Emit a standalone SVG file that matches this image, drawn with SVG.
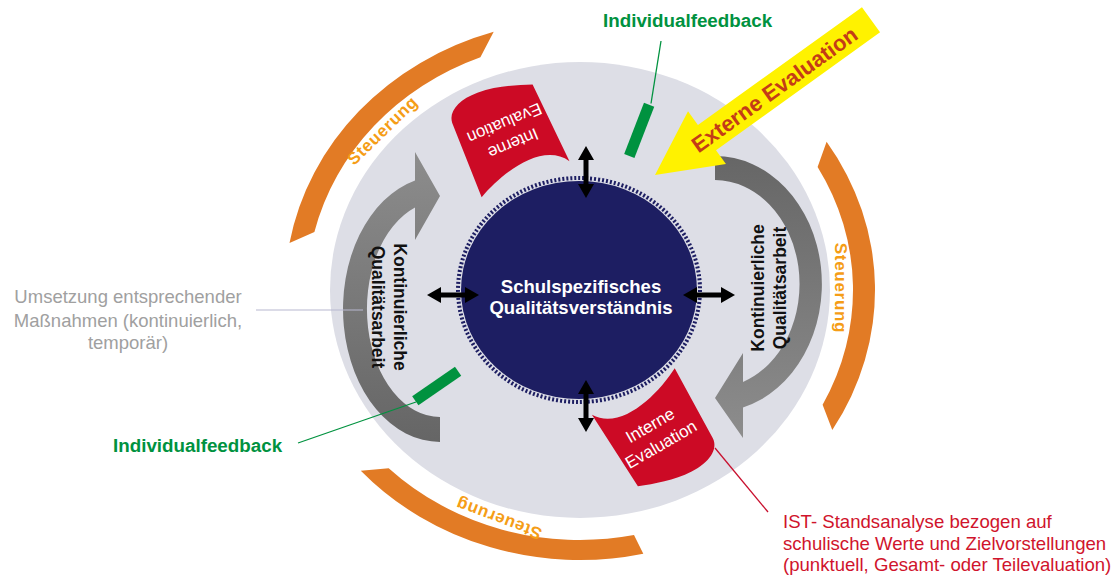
<svg xmlns="http://www.w3.org/2000/svg" width="1119" height="575" viewBox="0 0 1119 575">
<defs>
<style>
.orange{fill:#e27b25}
.steu{font-family:"Liberation Sans",Arial,sans-serif;font-weight:bold;font-size:17px;fill:#f59d16;letter-spacing:0.7px;text-anchor:middle}
.kqa{font-family:"Liberation Sans",Arial,sans-serif;font-weight:bold;font-size:17.5px;fill:#111;text-anchor:middle}
.flag{fill:#cc0a25}
.flagtxt{font-family:"Liberation Sans",Arial,sans-serif;font-size:17px;fill:#fff;text-anchor:middle}
.green{fill:#00923f}
.gtxt{font-family:"Liberation Sans",Arial,sans-serif;font-weight:bold;font-size:18.8px;fill:#00923f}
.dbl{fill:#000}
.ctr{font-family:"Liberation Sans",Arial,sans-serif;font-weight:bold;font-size:18.5px;fill:#fff;text-anchor:middle}
.gray{font-family:"Liberation Sans",Arial,sans-serif;font-size:18.5px;fill:#a0a0a0;text-anchor:middle}
.red{font-family:"Liberation Sans",Arial,sans-serif;font-size:18.6px;fill:#d0142c}
</style>
<linearGradient id="gl" gradientUnits="userSpaceOnUse" x1="0" y1="150" x2="0" y2="445"><stop offset="0" stop-color="#8d8d8d"/><stop offset="1" stop-color="#656565"/></linearGradient>
<linearGradient id="gr" gradientUnits="userSpaceOnUse" x1="0" y1="155" x2="0" y2="440"><stop offset="0" stop-color="#666666"/><stop offset="1" stop-color="#8d8d8d"/></linearGradient>
<path id="flagShape" d="M-48,-43 C-30,-14 20,-28 47,-42 L45,38 C44,50 30,57 10,56 C-10,55 -28,48 -44,42 Z"/>
<polygon id="dblArrow" points="0,-26 8,-12 2.5,-12 2.5,12 8,12 0,26 -8,12 -2.5,12 -2.5,-12 -8,-12"/>
</defs>

<g id="ring">
<ellipse cx="580" cy="290" rx="250" ry="228" fill="#dddee6"/>
</g>

<g id="steuerung-top-left">
<path class="orange" d="M289.5,243.1 A295,270 0 0 1 493.7,31.8 L480.4,57.2 A273,250 0 0 0 314.4,232.1 Z"/>
<text class="steu" transform="translate(383,131) rotate(-44)" y="5">Steuerung</text>
</g>
<g id="steuerung-right">
<path class="orange" d="M826.6,141.8 A295,270 0 0 1 832.3,429.9 L822.6,404.7 A273,250 0 0 0 817.6,166.9 Z"/>
<text class="steu" transform="translate(840,288) rotate(90)" y="5">Steuerung</text>
</g>
<g id="steuerung-bottom">
<path class="orange" d="M643.3,553.7 A295,270 0 0 1 360.8,470.7 L388.7,468.3 A273,250 0 0 0 634,535.1 Z"/>
<text class="steu" transform="translate(499,518) rotate(200.5)" y="5">Steuerung</text>
</g>

<g id="kqa-left">
<path fill="url(#gl)" d="M440,442 A97,133 0 0 1 415,180.5 L415,152 L440,196 L415,240 L415,207.5 A73,108 0 0 0 440,417 Z"/>
<text class="kqa" transform="translate(389,307) rotate(90)"><tspan x="0" y="-4.5">Kontinuierliche</tspan><tspan x="0" y="17.5">Qualitätsarbeit</tspan></text>
</g>
<g id="kqa-right">
<path fill="url(#gr)" d="M715,156 A107,128 0 0 1 743,407.5 L743,438 L715,398 L743,353 L743,382 A85,104 0 0 0 715,180 Z"/>
<text class="kqa" transform="translate(768.5,288) rotate(-90)"><tspan x="0" y="-5">Kontinuierliche</tspan><tspan x="0" y="17">Qualitätsarbeit</tspan></text>
</g>

<g id="center">
<ellipse cx="579" cy="290" rx="121" ry="112" fill="none" stroke="#1d1e62" stroke-width="4" stroke-dasharray="2 2"/>
<ellipse cx="579" cy="290" rx="118" ry="109" fill="#1d1e62"/>
<text class="ctr" x="581" y="293">Schulspezifisches</text>
<text class="ctr" x="581" y="314">Qualitätsverständnis</text>
</g>

<g id="interne-evaluation-top">
<use href="#flagShape" class="flag" transform="translate(508.5,140.3) rotate(157)"/>
<text class="flagtxt" transform="translate(508.5,140.3) rotate(157)"><tspan x="-3" y="1">Interne</tspan><tspan x="-3" y="23">Evaluation</tspan></text>
</g>
<g id="interne-evaluation-bottom">
<use href="#flagShape" class="flag" transform="translate(655,428) rotate(-30)"/>
<text class="flagtxt" transform="translate(655,428) rotate(-30)"><tspan x="-3" y="1">Interne</tspan><tspan x="-3" y="23">Evaluation</tspan></text>
</g>

<g id="externe-evaluation">
<polygon fill="#fff200" transform="translate(655,175) rotate(-35.7)" points="0,0 64,-32.5 64,-15.5 266,-15.5 266,15.5 64,15.5 64,32.5"/>
<text transform="translate(655,175) rotate(-35.7)" x="147" y="8" text-anchor="middle" font-family="Liberation Sans, Arial, sans-serif" font-weight="bold" font-size="22" fill="#c43c17">Externe Evaluation</text>
</g>

<g id="individualfeedback-top">
<rect class="green" x="-27.5" y="-5.5" width="55" height="11" transform="translate(639.2,130.4) rotate(-68.9)"/>
<text class="gtxt" x="603" y="27">Individualfeedback</text>
</g>
<g id="individualfeedback-bottom">
<rect class="green" x="-26" y="-5.5" width="52" height="11" transform="translate(436.7,386) rotate(-34.6)"/>
<text class="gtxt" x="113" y="452">Individualfeedback</text>
</g>

<g id="annotation-left">
<text class="gray"><tspan x="128" y="303">Umsetzung entsprechender</tspan><tspan x="128" y="326.5">Maßnahmen (kontinuierlich,</tspan><tspan x="128" y="349">temporär)</tspan></text>
</g>
<g id="annotation-right">
<text class="red"><tspan x="783" y="527.5">IST- Standsanalyse bezogen auf</tspan><tspan x="783" y="549.5">schulische Werte und Zielvorstellungen</tspan><tspan x="783" y="571">(punktuell, Gesamt- oder Teilevaluation)</tspan></text>
</g>

<g id="connectors">
<use href="#dblArrow" class="dbl" transform="translate(586,172)"/>
<use href="#dblArrow" class="dbl" transform="translate(586,406)"/>
<use href="#dblArrow" class="dbl" transform="translate(453,295) rotate(90)"/>
<use href="#dblArrow" class="dbl" transform="translate(709,295) rotate(90)"/>
<line x1="651" y1="103.5" x2="661" y2="41" stroke="#00923f" stroke-width="1.3"/>
<line x1="298" y1="443" x2="416" y2="402" stroke="#00923f" stroke-width="1.3"/>
<line x1="256" y1="310" x2="363" y2="310" stroke="#b8b8d0" stroke-width="1.2"/>
<line x1="715" y1="448" x2="768" y2="512" stroke="#c8102e" stroke-width="1.3"/>
</g>
</svg>
